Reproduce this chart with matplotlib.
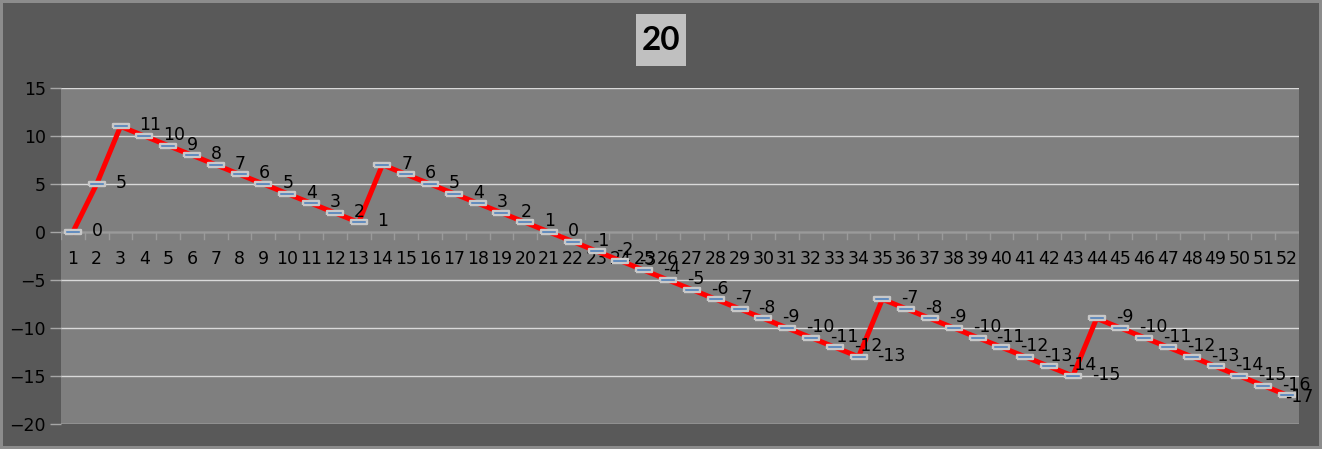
import numpy as np
import matplotlib
matplotlib.use('Agg')
import matplotlib.pyplot as plt
from matplotlib.patches import Rectangle

################################################################################
# Data
################################################################################

categories = list(range(1, 53))
values = [0, 5, 11, 10, 9, 8, 7, 6, 5, 4, 3, 2, 1,
          7, 6, 5, 4, 3, 2, 1, 0, -1, -2, -3, -4, -5, -6, -7, -8, -9, -10, -11, -12, -13,
          -7, -8, -9, -10, -11, -12, -13, -14, -15,
          -9, -10, -11, -12, -13, -14, -15, -16, -17]
y_ticks = [-20, -15, -10, -5, 0, 5, 10, 15]
title = '20'

################################################################################
# Figure
################################################################################

W, H = 1322, 449
plt.rcParams['font.family'] = ['DejaVu Sans']
FS = 12.5

fig = plt.figure(figsize=(W / 100, H / 100), dpi=100, facecolor='#595959',
                 edgecolor='#8c8c8c', linewidth=3)
ax = fig.add_axes([61 / W, 1 - 424 / H, 1238 / W, 336 / H])
ax.set_facecolor('#7f7f7f')

# grid + axis at zero
ax.set_ylim(y_ticks[0], y_ticks[-1])
ax.set_xlim(0.5, len(categories) + 0.5)
ax.set_yticks(y_ticks)
ax.grid(axis='y', color='#d9d9d9', linewidth=1)
ax.set_axisbelow(True)
for s in ax.spines.values():
	s.set_visible(False)
ax.axhline(0, color='#9a9a9a', linewidth=1, zorder=1)

# y ticks
ax.tick_params(axis='y', colors='#a6a6a6', length=8, width=1, pad=3,
               labelcolor='black', labelsize=FS)

# x axis: labels under the zero line, small ticks between categories
ax.set_xticks([])
for xb in np.arange(0.5, len(categories) + 1, 1):
	ax.plot([xb, xb], [0, -0.7], color='#9a9a9a', linewidth=1, zorder=1)
for c in categories:
	ax.annotate(str(c), (c, 0), xytext=(0, -27), textcoords='offset pixels',
	            ha='center', va='center', fontsize=FS, color='black')

# the series
ax.plot(categories, values, color='#ff0000', linewidth=3.6, zorder=3)
dash = [(-1, -0.26), (1, -0.26), (1, 0.26), (-1, 0.26), (-1, -0.26)]
ax.plot(categories, values, linestyle='none', marker=dash, markersize=12,
        markerfacecolor='#4f81bd', markeredgecolor='#c8c8c8', markeredgewidth=1.7,
        zorder=4)

# data labels, sitting to the right of each point
labels = []
for c, v in zip(categories, values):
	t = ax.annotate(str(v), (c, v), xytext=(19, 1), textcoords='offset pixels',
	                ha='left', va='center', fontsize=FS, color='black', zorder=5)
	labels.append(t)

# title in its light box
fig.patches.append(Rectangle((636 / W, 1 - 66 / H), 50 / W, 52 / H,
                             transform=fig.transFigure, facecolor='#c0c0c0',
                             edgecolor='none', zorder=0))
fig.text(0.5, 1 - 40 / H, title, ha='center', va='center', fontsize=24,
         fontweight='bold', color='black', family='Lato')

# keep labels inside the picture, like the spreadsheet does
fig.canvas.draw()
r = fig.canvas.get_renderer()
for t in labels:
	bb = t.get_window_extent(r)
	if bb.x1 > W - 8:
		dx = bb.x1 - (W - 8)
		t.set_position((19 - dx, -2))

fig.savefig('out.png', dpi=100, facecolor=fig.get_facecolor(),
            edgecolor=fig.get_edgecolor())
